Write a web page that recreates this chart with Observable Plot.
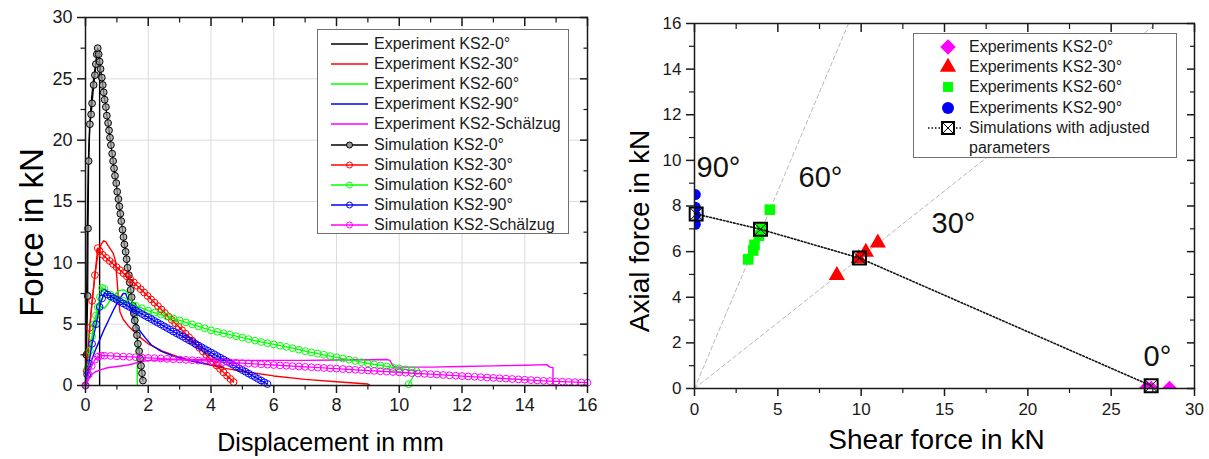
<!DOCTYPE html>
<html><head><meta charset="utf-8">
<script src="https://cdn.jsdelivr.net/npm/d3@7"></script>
<script src="https://cdn.jsdelivr.net/npm/@observablehq/plot@0.6"></script>
<style>
body{margin:0;background:#fff;}
#wrap{position:relative;width:1209px;height:459px;overflow:hidden;font-family:"Liberation Sans",Arial,sans-serif;}
#row{display:flex;}
#row svg{display:block;}
.legend{position:absolute;background:#fff;border:1px solid #707070;box-sizing:border-box;color:#1a1a1a;font-size:16px;}
.lrow{display:flex;align-items:center;white-space:nowrap;}
</style></head><body><div id="wrap"><div id="row"></div></div>
<script>
// ---------- LEFT PANEL DATA (Displacement mm, Force kN) ----------
const expKS2_0 = [[0,0],[0.02,3],[0.04,8],[0.06,13],[0.09,18],[0.13,21],[0.18,23],[0.24,24.6],[0.3,25.8],[0.35,26.7],[0.39,27.2],[0.42,27.3],[0.44,26.9],[0.45,26],[0.45,0]];
const expKS2_30 = [[0,0],[0.05,1.5],[0.1,3.5],[0.2,6.5],[0.3,9.0],[0.4,10.8],[0.5,11.5],[0.58,11.8],[0.65,11.7],[0.72,11.4],[0.8,11.1],[0.88,10.8],[0.95,10.2],[1.0,8.8],[1.05,7.0],[1.1,6.0],[1.2,5.4],[1.35,4.9],[1.5,4.5],[1.75,3.9],[2.0,3.4],[2.5,2.75],[3.0,2.3],[3.5,1.95],[4.0,1.65],[4.5,1.38],[5.0,1.15],[6.0,0.78],[7.0,0.5],[8.0,0.3],[9.0,0.12],[9.05,0.05]];
const expKS2_60 = [[0,0],[0.1,2.0],[0.2,3.8],[0.3,5.2],[0.4,6.1],[0.5,6.4],[0.6,6.3],[0.7,6.6],[0.8,7.0],[0.9,7.3],[1.0,7.6],[1.1,7.75],[1.2,7.8],[1.3,7.7],[1.4,7.3],[1.5,6.8],[1.6,6.3],[1.65,5.8],[1.65,0]];
const expKS2_90 = [[0,0],[0.05,0.7],[0.12,1.4],[0.2,2.1],[0.3,2.8],[0.45,3.7],[0.6,4.6],[0.75,5.4],[0.9,6.2],[1.05,6.9],[1.2,7.5],[1.28,7.5],[1.35,7.0],[1.45,6.3],[1.5,5.6],[1.6,4.9],[1.75,4.4],[1.9,3.9],[2.1,3.3],[2.4,2.8],[2.8,2.4],[3.2,2.1],[3.6,1.9],[4.0,1.7],[4.4,1.5]];
const expKS2_S = [[0,0],[0.1,0.5],[0.2,0.9],[0.3,1.1],[0.5,1.3],[0.7,1.45],[1.0,1.55],[1.3,1.65],[1.5,1.75],[1.7,1.9],[2.0,2.05],[2.5,2.1],[3,2.12],[4,2.1],[5,2.05],[6,2.05],[7,2.05],[8,2.08],[9,2.1],[9.6,2.12],[9.7,2.05],[9.8,1.6],[9.9,1.5],[10.5,1.5],[11,1.5],[12,1.55],[13,1.6],[14,1.65],[14.7,1.7],[14.8,1.5],[14.9,1.45],[14.9,0]];

const simKS2_0 = [[0,0],[0.03,2.5],[0.07,7.3],[0.08,12.8],[0.10,18.3],[0.14,21.3],[0.18,22.1],[0.21,23.0],[0.26,24.5],[0.30,25.3],[0.33,26.2],[0.36,27.0],[0.39,27.5],
[0.42,27.0],[0.45,26.4],[0.48,25.8],[0.52,25.1],[0.55,24.5],[0.58,23.9],[0.61,23.3],[0.65,22.7],[0.68,22.0],[0.72,21.4],
[0.75,20.8],[0.78,20.2],[0.81,19.6],[0.85,18.9],[0.88,18.3],[0.91,17.7],[0.94,17.1],[0.98,16.5],[1.01,15.8],[1.05,15.2],
[1.08,14.6],[1.11,14.0],[1.14,13.4],[1.18,12.7],[1.21,12.1],[1.24,11.5],[1.28,10.9],[1.31,10.3],[1.34,9.6],[1.38,9.0],
[1.41,8.4],[1.44,7.8],[1.47,7.2],[1.51,6.5],[1.54,5.9],[1.57,5.3],[1.61,4.7],[1.64,4.1],[1.67,3.4],[1.71,2.8],
[1.74,2.2],[1.77,1.6],[1.80,1.0],[1.83,0.4]];
const simKS2_30 = [[0,0],[0.04,1.2],[0.07,2.6],[0.13,4.7],[0.21,6.9],[0.30,9.0],[0.39,11.2],
[0.45,10.95],[0.55,10.65],[0.66,10.4],[0.77,10.15],[0.88,9.9],[0.99,9.65],[1.10,9.4],[1.21,9.15],[1.32,8.9],[1.43,8.65],
[1.54,8.4],[1.65,8.12],[1.76,7.85],[1.87,7.58],[1.98,7.3],[2.09,7.02],[2.20,6.75],[2.31,6.47],[2.42,6.19],[2.53,5.91],
[2.64,5.63],[2.75,5.35],[2.86,5.07],[2.97,4.79],[3.08,4.5],[3.19,4.22],[3.30,3.93],[3.41,3.65],[3.52,3.36],[3.63,3.07],
[3.74,2.78],[3.85,2.49],[3.96,2.2],[4.07,1.91],[4.18,1.63],[4.29,1.35],[4.40,1.07],[4.51,0.8],[4.62,0.53],[4.72,0.28]];
const simKS2_60 = [[0,0],[0.07,1.4],[0.14,2.85],[0.21,4.0],[0.27,5.0],[0.33,5.7],[0.39,6.4],[0.46,7.2],[0.53,7.95],
[0.6,7.88],[0.8,7.4],[1.0,7.1],[1.2,6.9],[1.4,6.7],[1.6,6.5],[1.8,6.3],[2.0,6.1],[2.2,5.94],[2.4,5.78],[2.6,5.62],[2.8,5.46],
[3.0,5.3],[3.2,5.14],[3.4,4.98],[3.6,4.82],[3.8,4.66],[4.0,4.5],[4.2,4.38],[4.4,4.26],[4.6,4.14],[4.8,4.02],[5.0,3.9],
[5.2,3.78],[5.4,3.66],[5.6,3.55],[5.8,3.45],[6.0,3.35],[6.2,3.25],[6.4,3.15],[6.6,3.04],[6.8,2.92],[7.0,2.8],[7.2,2.7],
[7.4,2.6],[7.6,2.5],[7.8,2.4],[8.0,2.3],[8.2,2.2],[8.4,2.1],[8.6,2.0],[8.8,1.9],[9.0,1.8],[9.2,1.72],[9.4,1.64],[9.6,1.56],
[9.8,1.48],[10.0,1.4],[10.2,1.32],[10.4,1.24],[10.55,1.18],[10.3,0.1]];
const simKS2_90 = [[0,0],[0.05,0.9],[0.11,1.8],[0.21,3.4],[0.34,5.0],[0.45,6.4],[0.53,7.1],[0.6,7.55],
[0.7,7.41],[0.8,7.26],[0.9,7.12],[1.0,6.98],[1.1,6.84],[1.2,6.69],[1.3,6.55],[1.4,6.41],[1.5,6.26],[1.6,6.12],[1.7,5.98],
[1.8,5.83],[1.9,5.69],[2.0,5.55],[2.1,5.41],[2.2,5.26],[2.3,5.12],[2.4,4.98],[2.5,4.83],[2.6,4.69],[2.7,4.55],[2.8,4.40],
[2.9,4.26],[3.0,4.12],[3.1,3.98],[3.2,3.83],[3.3,3.69],[3.4,3.55],[3.5,3.40],[3.6,3.26],[3.7,3.12],[3.8,2.97],[3.9,2.83],
[4.0,2.69],[4.1,2.55],[4.2,2.40],[4.3,2.26],[4.4,2.12],[4.5,1.97],[4.6,1.83],[4.7,1.69],[4.8,1.54],[4.9,1.40],[5.0,1.26],
[5.1,1.12],[5.2,0.97],[5.3,0.83],[5.4,0.69],[5.5,0.54],[5.6,0.40],[5.7,0.26],[5.8,0.12]];
const simKS2_S = [[0,0],[0.1,0.9],[0.2,1.6],[0.3,2.1],[0.4,2.35],[0.5,2.43],
[0.6,2.43],[0.8,2.41],[1.0,2.38],[1.2,2.36],[1.4,2.33],[1.6,2.31],[1.8,2.28],[2.0,2.25],[2.2,2.23],[2.4,2.20],[2.6,2.17],
[2.8,2.14],[3.0,2.12],[3.2,2.09],[3.4,2.06],[3.6,2.03],[3.8,2.00],[4.0,1.97],[4.2,1.94],[4.4,1.91],[4.6,1.88],[4.8,1.85],
[5.0,1.82],[5.2,1.79],[5.4,1.76],[5.6,1.73],[5.8,1.70],[6.0,1.67],[6.2,1.64],[6.4,1.61],[6.6,1.58],[6.8,1.55],[7.0,1.52],
[7.2,1.49],[7.4,1.46],[7.6,1.43],[7.8,1.40],[8.0,1.37],[8.2,1.34],[8.4,1.31],[8.6,1.28],[8.8,1.25],[9.0,1.22],[9.2,1.19],
[9.4,1.16],[9.6,1.13],[9.8,1.10],[10.0,1.07],[10.2,1.04],[10.4,1.01],[10.6,0.98],[10.8,0.95],[11.0,0.92],[11.2,0.89],
[11.4,0.86],[11.6,0.83],[11.8,0.80],[12.0,0.77],[12.2,0.74],[12.4,0.71],[12.6,0.68],[12.8,0.65],[13.0,0.62],[13.2,0.59],
[13.4,0.56],[13.6,0.53],[13.8,0.50],[14.0,0.47],[14.2,0.44],[14.4,0.41],[14.6,0.38],[14.8,0.36],[15.0,0.33],[15.2,0.31],
[15.4,0.29],[15.6,0.27],[15.8,0.25],[16.0,0.23]];

const leftXTicks = [0,2,4,6,8,10,12,14,16];
const leftXMinor = [1,3,5,7,9,11,13,15];
const leftYTicks = [0,5,10,15,20,25,30];
const leftYMinor = [2.5,7.5,12.5,17.5,22.5,27.5];
const leftLegendLabels = ["Experiment KS2-0°","Experiment KS2-30°","Experiment KS2-60°","Experiment KS2-90°","Experiment KS2-Schälzug","Simulation KS2-0°","Simulation KS2-30°","Simulation KS2-60°","Simulation KS2-90°","Simulation KS2-Schälzug"];

// ---------- RIGHT PANEL DATA (Shear force kN, Axial force kN) ----------
const exp0Shear = [27.1,27.4,28.5], exp0Axial = [0,0,0];
const exp30Shear = [8.54,9.85,10.28,11.0], exp30Axial = [4.96,5.7,5.98,6.39];
const exp60Shear = [3.22,3.52,3.6,3.86,4.02,4.52], exp60Axial = [5.66,6.05,6.3,6.7,7.0,7.84];
const exp90Shear = [0.05,0.05,0.05,0.05], exp90Axial = [8.5,7.95,7.6,7.2];
const simShear = [0.1,3.96,9.9,27.4], simAxial = [7.65,6.98,5.72,0.12];
const ref60Shear = [0,9.24], ref60Axial = [0,16];
const ref30Shear = [0,27.71], ref30Axial = [0,16];
const angleLabels = ["90°","60°","30°","0°"];
const angleShear = [0.12,6.24,14.22,26.94];
const angleAxial = [9.68,9.24,7.23,1.40];
const rightXTicks = [0,5,10,15,20,25,30];
const rightXMinor = [2.5,7.5,12.5,17.5,22.5,27.5];
const rightYTicks = [0,2,4,6,8,10,12,14,16];
const rightYMinor = [1,3,5,7,9,11,13,15];
const rightLegendLabels = ["Experiments KS2-0°","Experiments KS2-30°","Experiments KS2-60°","Experiments KS2-90°","Simulations with adjusted|parameters"];

// ---------- STYLE ----------
const FONT = '"Liberation Sans", Arial, Helvetica, sans-serif';
const COL = ["#000000","#ff0000","#00ff00","#0000ff","#ff00ff"];
const AX = "#1a1a1a";
const blank = () => "";

// axis tick marks: outward (with labels) on bottom/left, inward mirrored on top/right
function axesMarks(xs, xm, ys, ym, fs, padX, padY, minorLen) {
  const o = {stroke: AX, strokeWidth: 1.5, label: null};
  return [
    Plot.axisX({ticks: xs, tickSize: 8, tickPadding: padX, fontSize: fs, ...o}),
    Plot.axisX({ticks: xm, tickSize: minorLen, tickFormat: blank, ...o, strokeWidth: 1.2}),
    Plot.axisY({ticks: ys, tickSize: 8, tickPadding: padY, fontSize: fs, ...o}),
    Plot.axisY({ticks: ym, tickSize: minorLen, tickFormat: blank, ...o, strokeWidth: 1.2}),
    Plot.axisX({anchor: "top", ticks: xs, tickSize: -8, tickFormat: blank, ...o}),
    Plot.axisX({anchor: "top", ticks: xm, tickSize: -minorLen, tickFormat: blank, ...o, strokeWidth: 1.2}),
    Plot.axisY({anchor: "right", ticks: ys, tickSize: -8, tickFormat: blank, ...o}),
    Plot.axisY({anchor: "right", ticks: ym, tickSize: -minorLen, tickFormat: blank, ...o, strokeWidth: 1.2})
  ];
}

const P = d => d[0], Q = d => d[1];

// ---------- LEFT PLOT ----------
const LW = 604, LH = 459, LM = {l: 85, r: 17, t: 17, b: 74};
const exps = [expKS2_0, expKS2_30, expKS2_60, expKS2_90, expKS2_S];
const sims = [simKS2_0, simKS2_30, simKS2_60, simKS2_90, simKS2_S];

const left = Plot.plot({
  width: LW, height: LH,
  marginLeft: LM.l, marginRight: LM.r, marginTop: LM.t, marginBottom: LM.b,
  x: {domain: [0, 16]},
  y: {domain: [0, 30]},
  style: {fontFamily: FONT, color: AX, background: "white", overflow: "visible"},
  marks: [
    Plot.gridX(leftXTicks.slice(1, -1), {stroke: "#dcdcdc", strokeOpacity: 1}),
    Plot.gridY(leftYTicks.slice(1, -1), {stroke: "#dcdcdc", strokeOpacity: 1}),
    ...exps.map((s, i) => Plot.line(s, {x: P, y: Q, stroke: COL[i], strokeWidth: 1.4})),
    ...sims.flatMap((s, i) => [
      Plot.line(s, {x: P, y: Q, stroke: COL[i], strokeWidth: 1.3}),
      Plot.dot(s, {x: P, y: Q, r: 3.4, stroke: COL[i], strokeWidth: 1, fill: i === 0 ? "#9a9a9a" : "none", fillOpacity: 0.7})
    ]),
    Plot.frame({stroke: AX, strokeWidth: 1.5}),
    ...axesMarks(leftXTicks, leftXMinor, leftYTicks, leftYMinor, 18, 5, 5, 4.5),
    Plot.text(["Displacement in mm"], {text: d => d, frameAnchor: "bottom", textAnchor: "middle", lineAnchor: "bottom", dy: 65, dx: -6, fontSize: 25, fill: "#000"}),
    Plot.text(["Force in kN"], {text: d => d, frameAnchor: "left", textAnchor: "middle", rotate: -90, lineAnchor: "bottom", dx: -43, dy: 31, fontSize: 33, fill: "#000"})
  ]
});

// ---------- RIGHT PLOT ----------
const RW = 605, RH = 459, RM = {l: 90, r: 15, t: 23, b: 71};
const boxX = {draw(ctx, size) { const h = Math.sqrt(size) / 2; ctx.moveTo(-h, -h); ctx.lineTo(h, h); ctx.moveTo(h, -h); ctx.lineTo(-h, h); }};
const idx = a => a.map((_, i) => i);

const right = Plot.plot({
  width: RW, height: RH,
  marginLeft: RM.l, marginRight: RM.r, marginTop: RM.t, marginBottom: RM.b,
  x: {domain: [0, 30]},
  y: {domain: [0, 16]},
  style: {fontFamily: FONT, color: AX, background: "white", overflow: "visible"},
  marks: [
    Plot.line(idx(ref60Shear), {x: i => ref60Shear[i], y: i => ref60Axial[i], stroke: "#b8b8b8", strokeWidth: 1, strokeDasharray: "4,3"}),
    Plot.line(idx(ref30Shear), {x: i => ref30Shear[i], y: i => ref30Axial[i], stroke: "#b8b8b8", strokeWidth: 1, strokeDasharray: "4,3"}),
    Plot.dot(idx(exp0Shear), {x: i => exp0Shear[i], y: i => exp0Axial[i], symbol: "diamond2", r: 7, fill: COL[4], clip: true}),
    Plot.dot(idx(exp30Shear), {x: i => exp30Shear[i], y: i => exp30Axial[i], symbol: "triangle", r: 6, fill: COL[1]}),
    Plot.dot(idx(exp60Shear), {x: i => exp60Shear[i], y: i => exp60Axial[i], symbol: "square", r: 6, fill: COL[2]}),
    Plot.dot(idx(exp90Shear), {x: i => exp90Shear[i], y: i => exp90Axial[i], symbol: "circle", r: 5.5, fill: COL[3], clip: true}),
    Plot.line(idx(simShear), {x: i => simShear[i], y: i => simAxial[i], stroke: "#111", strokeWidth: 1.6, strokeDasharray: "1.5,2"}),
    Plot.dot(idx(simShear), {x: i => simShear[i], y: i => simAxial[i], symbol: "square", r: 7.3, stroke: "#000", strokeWidth: 2, fill: "none"}),
    Plot.dot(idx(simShear), {x: i => simShear[i], y: i => simAxial[i], symbol: boxX, r: 7.3, stroke: "#000", strokeWidth: 1, fill: "none"}),
    Plot.text(idx(angleLabels), {x: i => angleShear[i], y: i => angleAxial[i], text: i => angleLabels[i], textAnchor: "start", lineAnchor: "middle", fontSize: 29, fill: "#111"}),
    Plot.frame({stroke: AX, strokeWidth: 1.5}),
    ...axesMarks(rightXTicks, rightXMinor, rightYTicks, rightYMinor, 17, 6, 5, 5),
    Plot.text(["Shear force in kN"], {text: d => d, frameAnchor: "bottom", textAnchor: "middle", lineAnchor: "bottom", dy: 60, dx: -8, fontSize: 28, fill: "#000"}),
    Plot.text(["Axial force in kN"], {text: d => d, frameAnchor: "left", textAnchor: "middle", rotate: -90, lineAnchor: "bottom", dx: -46, dy: 25, fontSize: 28, fill: "#000"})
  ]
});

const row = document.getElementById("row");
row.appendChild(left);
row.appendChild(right);

// ---------- LEGENDS ----------
const wrap = document.getElementById("wrap");
const NS = "http://www.w3.org/2000/svg";
function el(tag, attrs) { const e = document.createElementNS(NS, tag); for (const k in attrs) e.setAttribute(k, attrs[k]); return e; }

const lg = document.createElement("div");
lg.className = "legend";
Object.assign(lg.style, {left: "317px", top: "29px", width: "252px", height: "205px", paddingTop: "4px", paddingLeft: "13px"});
leftLegendLabels.forEach((lab, i) => {
  const r = document.createElement("div"); r.className = "lrow"; r.style.height = "20.1px";
  const s = el("svg", {width: 37, height: 20});
  const c = COL[i % 5];
  s.appendChild(el("line", {x1: 0, x2: 37, y1: 10, y2: 10, stroke: c, "stroke-width": 1.5}));
  if (i >= 5) s.appendChild(el("circle", {cx: 18.5, cy: 10, r: 3, stroke: c, fill: i === 5 ? "#9a9a9a" : "none", "stroke-width": 1}));
  const t = document.createElement("span"); t.textContent = lab; t.style.marginLeft = "6px";
  r.appendChild(s); r.appendChild(t); lg.appendChild(r);
});
wrap.appendChild(lg);

const rg = document.createElement("div");
rg.className = "legend";
Object.assign(rg.style, {left: "913px", top: "33px", width: "264px", height: "125px", paddingTop: "3px", paddingLeft: "13px"});
const legSym = [[d3.symbolDiamond2, 7, COL[4]], [d3.symbolTriangle, 6, COL[1]], [d3.symbolSquare, 5.6, COL[2]], [d3.symbolCircle, 6, COL[3]]];
rightLegendLabels.forEach((lab, i) => {
  const r = document.createElement("div"); r.className = "lrow"; r.style.alignItems = "flex-start";
  const s = el("svg", {width: 42, height: 20});
  if (i < 4) {
    const [type, rr, c] = legSym[i];
    s.appendChild(el("path", {d: d3.symbol(type, Math.PI * rr * rr)(), transform: "translate(21,10)", fill: c}));
  } else {
    s.appendChild(el("line", {x1: 1, x2: 36, y1: 10, y2: 10, stroke: "#111", "stroke-width": 1.5, "stroke-dasharray": "1.5,2"}));
    const sz = Math.PI * 6.8 * 6.8;
    s.appendChild(el("path", {d: d3.symbol(d3.symbolSquare, sz)(), transform: "translate(21,10)", fill: "#fff", stroke: "#000", "stroke-width": 2}));
    s.appendChild(el("path", {d: d3.symbol(boxX, sz)(), transform: "translate(21,10)", fill: "none", stroke: "#000", "stroke-width": 1}));
  }
  const t = document.createElement("div");
  t.innerHTML = lab.split("|").join("<br>");
  t.style.lineHeight = "20.2px";
  r.appendChild(s); r.appendChild(t); rg.appendChild(r);
});
wrap.appendChild(rg);
</script></body></html>
